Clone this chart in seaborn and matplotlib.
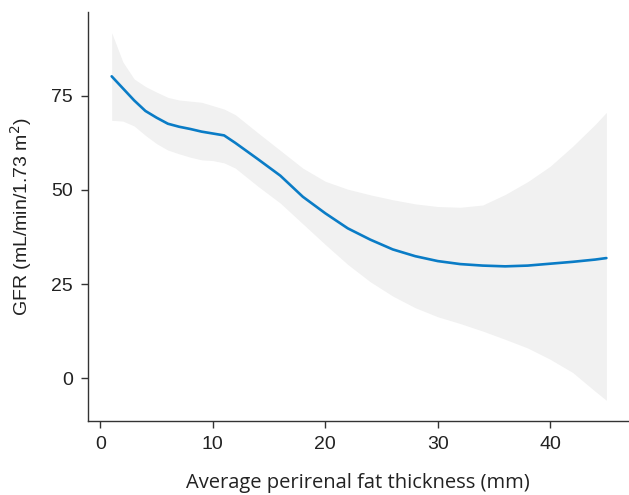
import numpy as np
import pandas as pd
import matplotlib
matplotlib.use("Agg")
import matplotlib.pyplot as plt
import seaborn as sns

# values
thickness = [1, 2, 3, 4, 5, 6, 7, 8, 9, 10, 11, 12, 14, 16, 18, 20, 22, 24,
             26, 28, 30, 32, 34, 36, 38, 40, 42, 44, 45]
gfr_fit = [80.2, 77.0, 73.8, 71.0, 69.2, 67.6, 66.8, 66.2, 65.5, 65.0, 64.5,
           62.5, 58.2, 53.8, 48.2, 43.8, 39.8, 36.8, 34.2, 32.4, 31.1, 30.3,
           29.9, 29.7, 29.9, 30.4, 30.9, 31.5, 31.9]
gfr_upper = [91.8, 84.0, 79.5, 77.5, 76.0, 74.6, 73.9, 73.6, 73.3, 72.4, 71.5,
             70.0, 65.2, 60.5, 55.8, 52.3, 50.2, 48.7, 47.4, 46.3, 45.6, 45.4,
             46.0, 48.8, 52.2, 56.3, 61.6, 67.4, 70.6]
gfr_lower = [68.5, 68.3, 67.0, 64.5, 62.3, 60.6, 59.6, 58.7, 58.0, 57.8, 57.2,
             55.8, 51.0, 46.5, 41.0, 35.5, 30.2, 25.6, 21.8, 18.7, 16.3, 14.5,
             12.5, 10.3, 8.0, 5.0, 1.5, -3.5, -5.9]

df = pd.DataFrame({"thickness": thickness, "gfr": gfr_fit,
                   "upper": gfr_upper, "lower": gfr_lower})

sns.set_style("ticks")
plt.rcParams["font.family"] = ["Liberation Sans", "DejaVu Sans"]

fig = plt.figure(figsize=(6.29, 4.95), dpi=100)
ax = fig.add_axes([0.140, 0.1495, 0.858, 0.8263])

ax.fill_between(df["thickness"], df["lower"], df["upper"],
                color="#f1f1f1", linewidth=0, zorder=1)
sns.lineplot(data=df, x="thickness", y="gfr", ax=ax, color="#0a7cc6",
             linewidth=1.9, zorder=2)

ax.set_xlim(-1.1, 46.9)
ax.set_ylim(-11.4, 97.3)
ax.set_xticks([0, 10, 20, 30, 40])
ax.set_yticks([0, 25, 50, 75])
sns.despine(ax=ax)
for s in ["left", "bottom"]:
    ax.spines[s].set_color("#333333")
    ax.spines[s].set_linewidth(1.0)
ax.tick_params(axis="both", length=5, width=1.0, color="#333333",
               labelsize=14, labelcolor="#222222", pad=6)

ax.set_xlabel("Average perirenal fat thickness (mm)", family=["Open Sans", "DejaVu Sans"],
              fontsize=14.5, color="#222222", labelpad=14)
ax.set_ylabel("GFR (mL/min/1.73 m$^2$)", fontsize=14, color="#222222", labelpad=12)

fig.savefig("out.png", dpi=100)
